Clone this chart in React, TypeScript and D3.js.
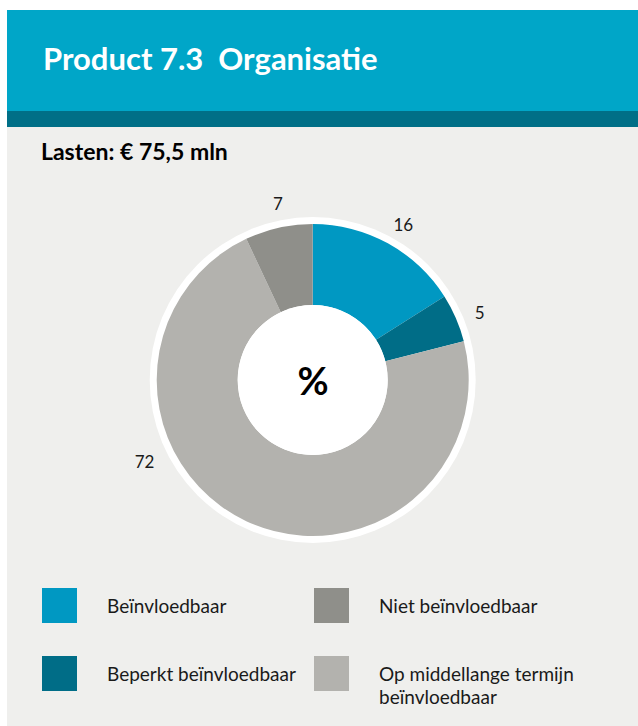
import React from "react";
import * as d3 from "d3";

// Lasten-verdeling Product 7.3 Organisatie (percentages)
const categories = [
  "Beïnvloedbaar",
  "Beperkt beïnvloedbaar",
  "Op middellange termijn beïnvloedbaar",
  "Niet beïnvloedbaar",
];
const values = [16, 5, 72, 7];
const colors = ["#0098c2", "#006d87", "#b3b2ae", "#8f8f8a"];

const title = "Product 7.3  Organisatie";
const subtitle = "Lasten: € 75,5 mln";

// legend order (column-major: left column then right column)
const legendOrder = [0, 1, 3, 2];
const legendLines: Record<number, string[]> = {
  0: ["Beïnvloedbaar"],
  1: ["Beperkt beïnvloedbaar"],
  3: ["Niet beïnvloedbaar"],
  2: ["Op middellange termijn", "beïnvloedbaar"],
};

const W = 638;
const H = 726;
const FONT = "Lato, 'Open Sans', sans-serif";

export default function App() {
  const cx = 312.7;
  const cy = 380;
  const rInner = 75;
  const rOuter = 156;
  const rRing = 163;
  const rLabel = 180;

  const pie = d3
    .pie<number>()
    .sort(null)
    .value((d) => d);
  const arcs = pie(values);
  const arcGen = d3
    .arc<d3.PieArcDatum<number>>()
    .innerRadius(rInner)
    .outerRadius(rOuter);

  // the big slice carries its label further round the ring
  const labelAngleOverride: Record<number, { angle: number; r: number }> = {
    2: { angle: (244 * Math.PI) / 180, r: 187 },
  };

  const labelPos = (a: d3.PieArcDatum<number>, i: number) => {
    const o = labelAngleOverride[i];
    const ang = o ? o.angle : (a.startAngle + a.endAngle) / 2 + 0.025;
    const r = o ? o.r : rLabel;
    return [cx + r * Math.sin(ang), cy - r * Math.cos(ang)];
  };

  const legendX = [42, 314];
  const legendY = [588, 656];

  return (
    <svg
      width={W}
      height={H}
      style={{ position: "absolute", left: 0, top: 0, display: "block" }}
    >
      {/* panel */}
      <rect x={7} y={10} width={W - 7} height={H - 10} fill="#efefed" />
      <rect x={7} y={10} width={W - 7} height={101} fill="#00a6c8" />
      <rect x={7} y={111} width={W - 7} height={16} fill="#006f87" />
      <text
        x={43}
        y={70}
        fill="#ffffff"
        fontFamily={FONT}
        fontWeight={700}
        fontSize={31}
        style={{ whiteSpace: "pre" }}
      >
        {title}
      </text>
      <text
        x={41}
        y={160}
        fill="#000000"
        fontFamily={FONT}
        fontWeight={700}
        fontSize={23}
      >
        {subtitle}
      </text>

      {/* donut */}
      <circle cx={cx} cy={cy} r={rRing} fill="#ffffff" />
      <g transform={`translate(${cx},${cy})`}>
        {arcs.map((a, i) => (
          <path key={categories[i]} d={arcGen(a) || ""} fill={colors[i]} />
        ))}
      </g>
      <circle cx={cx} cy={cy} r={rInner} fill="#ffffff" />
      <text
        x={cx + 0.5}
        y={cy}
        textAnchor="middle"
        dominantBaseline="central"
        fontFamily={FONT}
        fontWeight={700}
        fontSize={38}
        fill="#000"
      >
        %
      </text>
      {arcs.map((a, i) => {
        const [x, y] = labelPos(a, i);
        return (
          <text
            key={"l" + i}
            x={x}
            y={y}
            textAnchor="middle"
            dominantBaseline="central"
            fontFamily={FONT}
            fontSize={17}
            fill="#1a1a1a"
          >
            {values[i]}
          </text>
        );
      })}

      {/* legend */}
      {legendOrder.map((ci, k) => {
        const col = Math.floor(k / 2);
        const row = k % 2;
        const x = legendX[col];
        const y = legendY[row];
        const lines = legendLines[ci];
        return (
          <g key={"lg" + ci}>
            <rect x={x} y={y} width={35} height={35} fill={colors[ci]} />
            {lines.map((ln, j) => (
              <text
                key={j}
                x={x + 65}
                y={y + 24.5 + j * 23}
                fontFamily={FONT}
                fontSize={19}
                fill="#1a1a1a"
              >
                {ln}
              </text>
            ))}
          </g>
        );
      })}
    </svg>
  );
}
